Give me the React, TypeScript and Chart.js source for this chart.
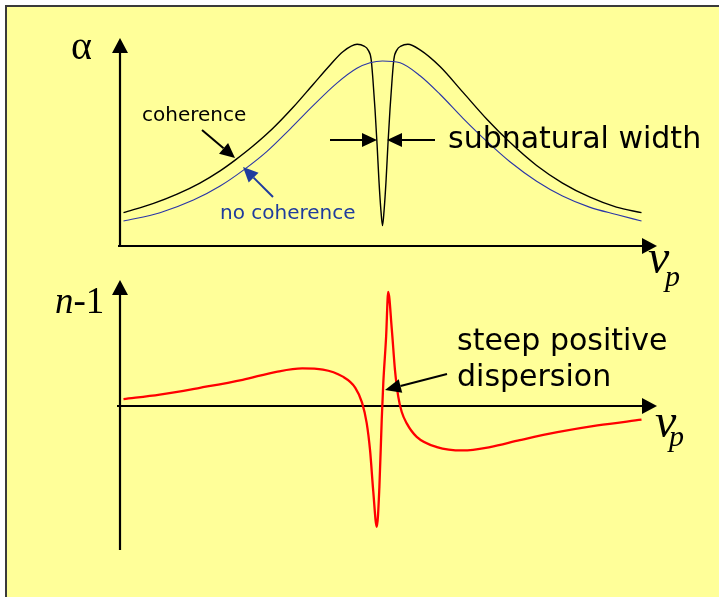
import React, { useEffect, useRef } from "react";
import { Chart, registerables } from "chart.js";

Chart.register(...registerables);

// detuning (arbitrary units), absorption with coherence (black)
const coherenceX = [-10, -8.84, -7.93, -7.05, -6.27, -5.69, -5.0, -4.23, -3.46, -2.68, -2.03, -1.53, -0.98, -0.71, -0.56, -0.44, -0.37, -0.29, -0.21, -0.14, -0.06, 0, 0.06, 0.14, 0.21, 0.29, 0.37, 0.44, 0.56, 0.71, 0.98, 1.45, 2.22, 3.11, 4.03, 4.92, 5.95, 6.95, 7.99, 9.03, 10];
const coherenceY = [0.18, 0.23, 0.28, 0.34, 0.406, 0.464, 0.54, 0.636, 0.748, 0.873, 0.977, 1.05, 1.09, 1.08, 1.06, 1.01, 0.9, 0.74, 0.55, 0.36, 0.19, 0.11, 0.19, 0.36, 0.55, 0.74, 0.9, 1.01, 1.06, 1.08, 1.09, 1.06, 0.97, 0.83, 0.685, 0.56, 0.435, 0.34, 0.265, 0.21, 0.18];

// absorption without coherence (blue)
const noCoherenceX = [-10, -8.59, -7.3, -6.27, -5.37, -4.47, -3.57, -2.66, -1.76, -0.99, -0.48, 0, 0.68, 1.45, 2.22, 3.11, 4.03, 4.92, 5.95, 6.95, 7.99, 9.03, 10];
const noCoherenceY = [0.135, 0.18, 0.248, 0.324, 0.41, 0.51, 0.632, 0.761, 0.88, 0.96, 0.99, 1.0, 0.99, 0.92, 0.82, 0.69, 0.565, 0.455, 0.35, 0.27, 0.21, 0.17, 0.135];

// refractive index n-1 (red)
const dispersionX = [-10, -8.6, -7.05, -5.4, -4.1, -3.1, -2.3, -1.55, -1.05, -0.79, -0.61, -0.48, -0.36, -0.22, -0.12, -0.03, 0.03, 0.14, 0.22, 0.36, 0.48, 0.61, 0.74, 0.93, 1.32, 2.1, 3.1, 4.15, 5.3, 6.75, 8.3, 10];
const dispersionY = [0.06, 0.1, 0.16, 0.23, 0.3, 0.33, 0.32, 0.26, 0.16, 0.03, -0.15, -0.39, -0.74, -1.06, -0.71, -0.12, 0.2, 0.61, 1.0, 0.67, 0.32, 0.08, -0.05, -0.15, -0.27, -0.36, -0.39, -0.36, -0.3, -0.23, -0.17, -0.12];

const labels = {
  alpha: "α",
  n: "n",
  nRest: "-1",
  nu: "ν",
  p: "p",
  coherence: "coherence",
  noCoherence: "no coherence",
  subnatural: "subnatural width",
  steep1: "steep positive",
  steep2: "dispersion",
};

const BG = "#FFFF99";
const BLUE_TEXT = "#1f3c9e";

function pts(xs: number[], ys: number[]) {
  return xs.map((x, i) => ({ x, y: ys[i] }));
}

function arrow(ctx: CanvasRenderingContext2D, x1: number, y1: number, x2: number, y2: number, color: string, lw: number, headLen: number, headHalf: number) {
  const ang = Math.atan2(y2 - y1, x2 - x1);
  const bx = x2 - headLen * Math.cos(ang);
  const by = y2 - headLen * Math.sin(ang);
  ctx.save();
  ctx.strokeStyle = color;
  ctx.fillStyle = color;
  ctx.lineWidth = lw;
  ctx.beginPath();
  ctx.moveTo(x1, y1);
  ctx.lineTo(bx, by);
  ctx.stroke();
  ctx.beginPath();
  ctx.moveTo(x2, y2);
  ctx.lineTo(bx + headHalf * Math.sin(ang), by - headHalf * Math.cos(ang));
  ctx.lineTo(bx - headHalf * Math.sin(ang), by + headHalf * Math.cos(ang));
  ctx.closePath();
  ctx.fill();
  ctx.restore();
}

const axesPlugin = {
  id: "schematicAxes",
  beforeDatasetsDraw(chart: any) {
    const ctx: CanvasRenderingContext2D = chart.ctx;
    const { left, right, top, bottom } = chart.chartArea;
    const yA = chart.scales.yA;
    const yN = chart.scales.yN;
    const zA = yA.getPixelForValue(0);
    const zN = yN.getPixelForValue(0);
    arrow(ctx, left, zA + 1, left, top, "#000", 2.2, 15, 8);
    arrow(ctx, left - 2, zA, right, zA, "#000", 2.2, 15, 8);
    arrow(ctx, left, bottom, left, top + 242, "#000", 2.2, 15, 8);
    arrow(ctx, left - 3, zN, right, zN, "#000", 2.2, 15, 8);
  },
  afterDatasetsDraw(chart: any) {
    const ctx: CanvasRenderingContext2D = chart.ctx;
    ctx.save();
    ctx.textBaseline = "alphabetic";
    ctx.textAlign = "left";
    ctx.fillStyle = "#000";
    ctx.font = "40px 'Liberation Serif', 'Times New Roman', serif";
    ctx.fillText(labels.alpha, 71, 59);
    ctx.font = "italic 37px 'Liberation Serif', serif";
    ctx.fillText(labels.n, 55, 313);
    const nw = ctx.measureText(labels.n).width;
    ctx.font = "37px 'Liberation Serif', serif";
    ctx.fillText(labels.nRest, 55 + nw, 313);
    ctx.font = "italic 48px 'Liberation Serif', serif";
    ctx.fillText(labels.nu, 648, 273);
    ctx.fillText(labels.nu, 655, 437);
    ctx.font = "italic 30px 'Liberation Serif', serif";
    ctx.fillText(labels.p, 665, 286);
    ctx.fillText(labels.p, 669, 446);

    ctx.font = "20px 'DejaVu Sans', sans-serif";
    ctx.fillText(labels.coherence, 142, 121);
    ctx.fillStyle = BLUE_TEXT;
    ctx.fillText(labels.noCoherence, 220, 219);
    ctx.fillStyle = "#000";
    ctx.font = "30px 'DejaVu Sans', sans-serif";
    ctx.fillText(labels.subnatural, 448, 148);
    ctx.fillText(labels.steep1, 457, 350);
    ctx.fillText(labels.steep2, 457, 386);
    ctx.restore();

    arrow(ctx, 202, 130, 235, 158, "#000", 2, 15, 7);
    arrow(ctx, 273, 197, 243, 167, BLUE_TEXT, 2, 15, 7);
    arrow(ctx, 330, 140, 377, 140, "#000", 2, 15, 7);
    arrow(ctx, 435, 140, 387, 140, "#000", 2, 15, 7);
    arrow(ctx, 447, 374, 385, 390, "#000", 2, 16, 7);
  },
};

export default function App() {
  const ref = useRef<HTMLCanvasElement>(null);
  useEffect(() => {
    if (!ref.current) return;
    const chart = new Chart(ref.current, {
      type: "line",
      data: {
        datasets: [
          {
            label: "no coherence",
            data: pts(noCoherenceX, noCoherenceY),
            yAxisID: "yA",
            borderColor: "#2a35a8",
            borderWidth: 1.1,
            pointRadius: 0,
            cubicInterpolationMode: "monotone",
          },
          {
            label: "coherence",
            data: pts(coherenceX, coherenceY),
            yAxisID: "yA",
            borderColor: "#000",
            borderWidth: 1.4,
            pointRadius: 0,
            cubicInterpolationMode: "monotone",
          },
          {
            label: "n-1",
            data: pts(dispersionX, dispersionY),
            yAxisID: "yN",
            borderColor: "#ff0000",
            borderWidth: 2.3,
            pointRadius: 0,
            cubicInterpolationMode: "monotone",
          },
        ],
      },
      options: {
        responsive: false,
        animation: false,
        layout: { padding: { left: 120, right: 62, top: 38, bottom: 47 } },
        scales: {
          x: { type: "linear", min: -10.135, max: 10.598, display: false },
          yA: { type: "linear", min: -1.643, max: 1.124, display: false },
          yN: { type: "linear", min: -1.263, max: 3.228, display: false },
        },
        plugins: { legend: { display: false }, tooltip: { enabled: false } },
      },
      plugins: [axesPlugin],
    } as any);
    return () => chart.destroy();
  }, []);

  return (
    <div style={{ position: "fixed", left: 0, top: 0, width: 719, height: 597, background: "#fff", overflow: "hidden" }}>
      <div
        style={{
          position: "absolute",
          left: 5,
          top: 5,
          width: 720,
          height: 600,
          background: BG,
          borderLeft: "2px solid #3a3a3a",
          borderTop: "2px solid #3a3a3a",
        }}
      />
      <canvas ref={ref} width={719} height={597} style={{ position: "absolute", left: 0, top: 0 }} />
    </div>
  );
}
